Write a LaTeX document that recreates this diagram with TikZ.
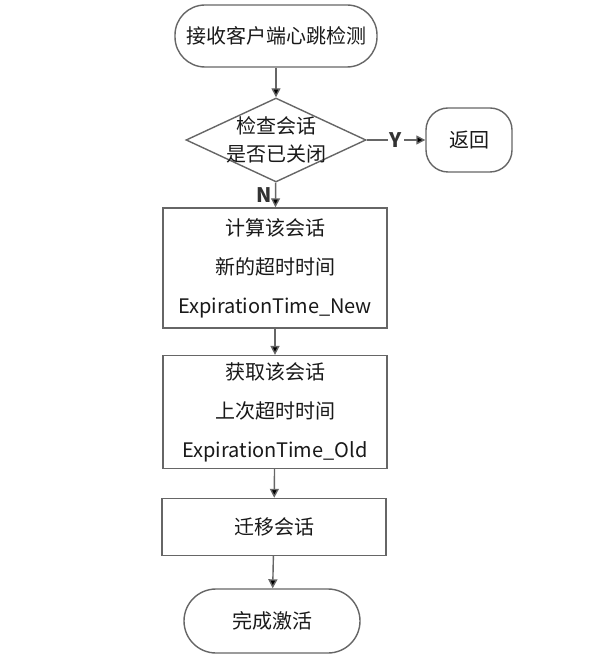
\documentclass[tikz,border=0pt]{standalone}
\usepackage{fontspec}
\setmainfont{Noto Sans CJK SC}
\usetikzlibrary{shapes.geometric,arrows.meta}

\begin{document}
\begin{tikzpicture}[x=0.5pt,y=-0.5pt,
  line/.style={draw=black!60,line width=0.7pt},
  box/.style={line,fill=white,minimum width=112pt,align=center,text=black!90,
    font=\fontsize{10}{19.5}\selectfont},
  term/.style={line,fill=white,minimum height=31pt,text=black!90,font=\fontsize{10}{12}\selectfont},
  test/.style={line,fill=white,diamond,aspect=2.14,minimum width=90pt,minimum height=42pt,inner sep=-4pt,
    align=center,text=black!90,font=\fontsize{10}{14}\selectfont}]
\useasboundingbox (0,0) rectangle (596,672);
\node[term,minimum width=101pt,rounded corners=15pt] (a) at (276,36) {接收客户端心跳检测};
\node[test] (b) at (276,140) {检查会话\\是否已关闭};
\node[term,minimum width=43pt,minimum height=32pt,rounded corners=11pt] (r) at (469,140) {返回};
\node[box,minimum height=60pt] (c) at (275,268) {计算该会话\\新的超时时间\\ExpirationTime\_New};
\node[box,minimum height=54pt] (d) at (275,412) {获取该会话\\上次超时时间\\ExpirationTime\_Old};
\node[box,minimum height=28.5pt] (e) at (274,527) {迁移会话};
\node[term,minimum width=88pt,minimum height=32pt,rounded corners=16pt] (f) at (272,621) {完成激活};
\path[line,-{Triangle[width=4.5pt,length=4.5pt]},font=\fontsize{10}{12}\selectfont\bfseries,text=black!80]
(a) edge (b)
(b) edge node[fill=white,inner sep=1pt] {Y} (r)
(b) edge node[left,xshift=2pt] {N} (c)
(c) edge (d)
(d) edge (e)
(e) edge (f)
;
\end{tikzpicture}
\end{document}
